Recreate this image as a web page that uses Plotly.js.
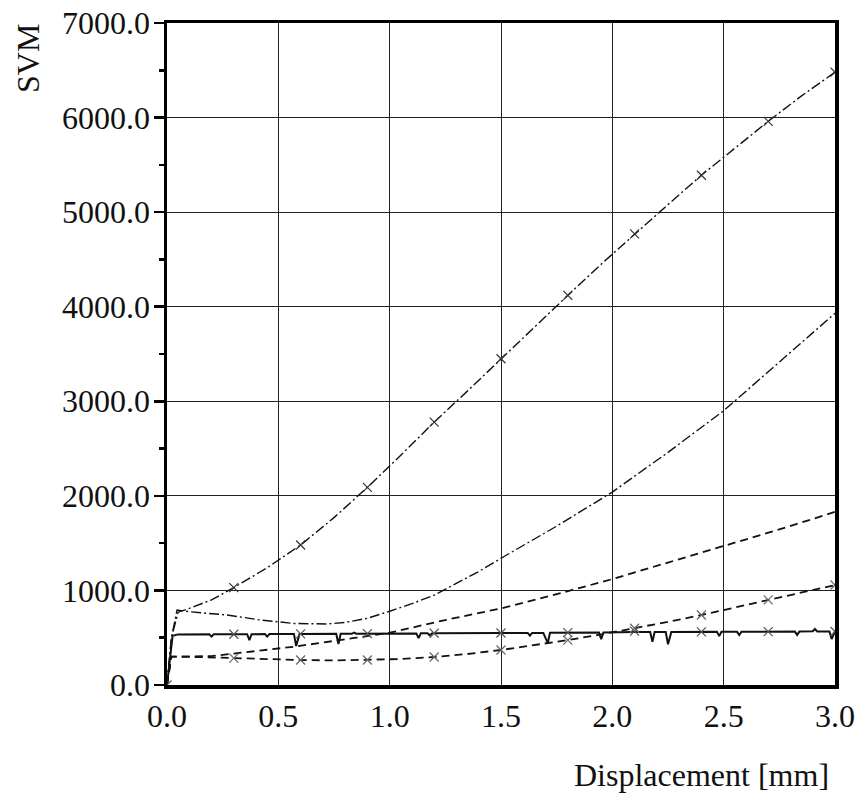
<!DOCTYPE html>
<html>
<head>
<meta charset="utf-8">
<script src="https://cdn.plot.ly/plotly-3.0.1.min.js"></script>
<style>
html,body{margin:0;padding:0;background:#fff;}
#chart{width:860px;height:795px;}
</style>
</head>
<body>
<div id="chart"></div>
<script>
// Top dash-dot curve (with x markers)
var topDDx = [0, 0.02, 0.05, 0.1, 0.2, 0.3, 0.45, 0.6, 0.75, 0.9, 1.05, 1.2, 1.35, 1.5, 1.65, 1.8, 1.95, 2.1, 2.25, 2.4, 2.55, 2.7, 2.85, 3.0];
var topDDy = [0, 500, 770, 810, 900, 1030, 1240, 1480, 1770, 2090, 2430, 2780, 3110, 3450, 3790, 4120, 4450, 4770, 5080, 5390, 5680, 5960, 6230, 6480];
var topMarkX = [0.3, 0.6, 0.9, 1.2, 1.5, 1.8, 2.1, 2.4, 2.7, 3.0];
var topMarkY = [1030, 1480, 2090, 2780, 3450, 4120, 4770, 5390, 5960, 6480];

// Second dash-dot curve (no markers)
var midDDx = [0, 0.02, 0.045, 0.1, 0.27, 0.42, 0.57, 0.72, 0.8, 0.9, 1.0, 1.1, 1.2, 1.27, 1.4, 1.5, 1.75, 2.0, 2.25, 2.5, 2.75, 3.0];
var midDDy = [0, 500, 793, 775, 740, 687, 651, 645, 662, 705, 780, 860, 950, 1036, 1200, 1340, 1680, 2040, 2460, 2900, 3410, 3930];

// Upper dashed curve (no markers)
var upDx = [0, 0.02, 0.2, 0.36, 0.57, 0.85, 1.0, 1.25, 1.5, 1.75, 2.0, 2.25, 2.5, 2.75, 3.0];
var upDy = [0, 300, 305, 350, 405, 500, 553, 687, 810, 960, 1120, 1295, 1470, 1645, 1830];

// Lower dashed curve (with x markers)
var lowDx = [0, 0.02, 0.15, 0.3, 0.45, 0.6, 0.75, 0.9, 1.05, 1.2, 1.35, 1.5, 1.65, 1.8, 1.95, 2.1, 2.25, 2.4, 2.55, 2.7, 2.85, 3.0];
var lowDy = [0, 300, 295, 285, 272, 264, 260, 264, 275, 296, 328, 370, 420, 475, 535, 600, 668, 740, 818, 900, 978, 1057];
var lowMarkX = [0.3, 0.6, 0.9, 1.2, 1.5, 1.8, 2.1, 2.4, 2.7, 3.0];
var lowMarkY = [285, 264, 264, 296, 370, 475, 600, 740, 900, 1057];

// Solid curve with small dips (with x markers)
var solidX = [0, 0.025, 0.05, 0.19, 0.20, 0.21, 0.30, 0.36, 0.37, 0.38, 0.44, 0.45, 0.46, 0.52, 0.57, 0.58, 0.595, 0.60, 0.76, 0.77, 0.78, 0.83, 0.84, 0.85, 0.90, 1.12, 1.13, 1.14, 1.17, 1.18, 1.19, 1.20, 1.50, 1.62, 1.63, 1.64, 1.69, 1.71, 1.72, 1.80, 1.94, 1.95, 1.96, 2.10, 2.17, 2.18, 2.19, 2.24, 2.25, 2.265, 2.40, 2.47, 2.48, 2.49, 2.56, 2.57, 2.58, 2.70, 2.82, 2.83, 2.84, 2.90, 2.91, 2.92, 2.975, 2.985, 3.0];
var solidY = [0, 520, 535, 536, 512, 536, 537, 537, 475, 537, 538, 512, 538, 538, 540, 412, 538, 540, 541, 433, 541, 541, 553, 542, 543, 545, 496, 546, 546, 525, 546, 547, 550, 551, 521, 551, 551, 442, 552, 553, 554, 484, 555, 560, 560, 458, 560, 560, 430, 561, 562, 562, 517, 562, 562, 528, 563, 564, 565, 530, 565, 568, 592, 567, 566, 486, 566];
var solidMarkX = [0, 0.3, 0.6, 0.9, 1.2, 1.5, 1.8, 2.1, 2.4, 2.7, 3.0];
var solidMarkY = [0, 537, 540, 543, 547, 550, 553, 570, 562, 564, 566];

var xTicks = [0, 0.5, 1.0, 1.5, 2.0, 2.5, 3.0];
var yTicks = [0, 1000, 2000, 3000, 4000, 5000, 6000, 7000];

var FONT = 'Liberation Serif, Times New Roman, serif';

function lineTrace(x, y, dash, w) {
  return {x: x, y: y, type: 'scatter', mode: 'lines', hoverinfo: 'skip',
          line: {color: '#111', width: w, dash: dash}};
}
function markTrace(x, y, color) {
  return {x: x, y: y, type: 'scatter', mode: 'markers', hoverinfo: 'skip',
          marker: {symbol: 'x-thin-open', size: 9, color: color, line: {color: color, width: 1.2}}};
}

var data = [
  lineTrace(topDDx, topDDy, '10px,3px,2px,3px', 1.4),
  lineTrace(midDDx, midDDy, '10px,3px,2px,3px', 1.4),
  lineTrace(upDx, upDy, '8px,5px', 1.8),
  lineTrace(lowDx, lowDy, '8px,5px', 1.8),
  lineTrace(solidX, solidY, 'solid', 2),
  markTrace(topMarkX, topMarkY, '#333'),
  markTrace(lowMarkX, lowMarkY, '#666'),
  markTrace(solidMarkX, solidMarkY, '#555')
];

var layout = {
  width: 860, height: 795,
  margin: {l: 167, r: 25, t: 23, b: 110},
  paper_bgcolor: '#fff', plot_bgcolor: '#fff',
  showlegend: false,
  font: {family: FONT, size: 32, color: '#111'},
  xaxis: {
    range: [0, 3.0], tickvals: xTicks, ticktext: xTicks.map(function(v){return v.toFixed(1);}),
    ticks: '', showgrid: true, gridcolor: '#222', gridwidth: 1,
    showline: true, linecolor: '#000', linewidth: 3.5, mirror: true,
    zeroline: false, tickfont: {family: FONT, size: 32, color: '#111'}
  },
  yaxis: {
    range: [0, 7000], tickvals: yTicks, ticktext: yTicks.map(function(v){return v.toFixed(1);}),
    ticks: 'outside', ticklen: 10, tickwidth: 2.5, tickcolor: '#000', ticklabelstandoff: -3,
    minor: {dtick: 500, tick0: 0, ticks: 'outside', ticklen: 5, tickwidth: 2.5, tickcolor: '#000', showgrid: false},
    showgrid: true, gridcolor: '#222', gridwidth: 1,
    showline: true, linecolor: '#000', linewidth: 3.5, mirror: true,
    zeroline: false, tickfont: {family: FONT, size: 32, color: '#111'}
  },
  annotations: [
    {text: 'SVM', xref: 'paper', yref: 'paper', x: 0, y: 1, xshift: -139, yshift: -36,
     xanchor: 'center', yanchor: 'middle', textangle: -90, showarrow: false,
     font: {family: FONT, size: 32, color: '#111'}},
    {text: 'Displacement [mm]', xref: 'paper', yref: 'paper', x: 1, y: 0, xshift: -4, yshift: -90,
     xanchor: 'right', yanchor: 'middle', showarrow: false,
     font: {family: FONT, size: 32, color: '#111'}}
  ]
};

Plotly.newPlot('chart', data, layout, {staticPlot: true, displayModeBar: false});
</script>
</body>
</html>
